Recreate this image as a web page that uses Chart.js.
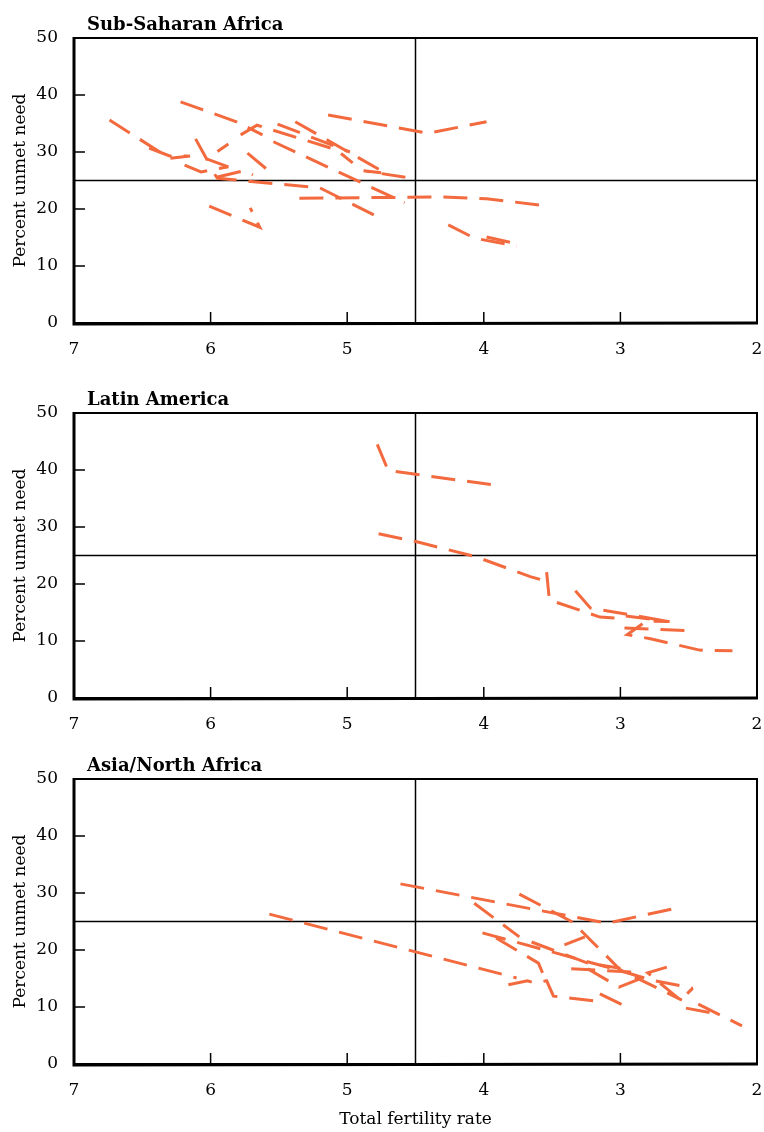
<!DOCTYPE html>
<html>
<head>
<meta charset="utf-8">
<script src="https://cdn.jsdelivr.net/npm/chart.js@4.4.0/dist/chart.umd.min.js"></script>
<style>
  body { margin: 0; background: #fff; width: 764px; height: 1132px; position: relative; overflow: hidden; }
  canvas { position: absolute; left: 0; }
</style>
</head>
<body>
<canvas id="ssa" width="764" height="375" style="top:0"></canvas>
<canvas id="latam" width="764" height="366" style="top:375px"></canvas>
<canvas id="asia" width="764" height="391" style="top:741px"></canvas>
<script>
// each country is one trajectory of [total fertility rate, percent unmet need] survey points
const ssaLines = [
  [[6.74, 35.6], [6.30, 28.9], [6.15, 29.3]],
  [[6.22, 38.8], [5.81, 35.3], [5.62, 33.0]],
  [[5.78, 33.0], [5.66, 34.7], [5.08, 30.4], [4.96, 28.1]],
  [[5.14, 36.5], [4.41, 33.3], [3.98, 35.3]],
  [[5.38, 35.3], [4.72, 26.3], [4.88, 26.7], [4.53, 25.4]],
  [[5.54, 31.8], [4.58, 21.1]],
  [[5.51, 34.9], [4.98, 30.0]],
  [[6.45, 30.7], [6.30, 29.3], [6.17, 29.3]],
  [[6.11, 32.3], [6.03, 28.8], [5.87, 31.4]],
  [[6.19, 27.7], [6.07, 26.5], [5.87, 27.4]],
  [[6.03, 28.8], [5.87, 27.4]],
  [[5.35, 21.9], [4.30, 22.1], [3.98, 21.8], [3.52, 20.5]],
  [[5.97, 26.1], [5.95, 25.4], [5.20, 23.7], [4.79, 18.8]],
  [[5.95, 25.6], [5.76, 26.7], [5.69, 26.0]],
  [[6.01, 20.5], [5.64, 16.8], [5.71, 20.2]],
  [[4.26, 17.2], [4.07, 14.9], [3.76, 13.5]],
  [[3.98, 15.1], [3.76, 13.9]],
  [[5.73, 29.8], [5.59, 27.0], [5.66, 26.8]]
];

const latamLines = [
  [[4.78, 44.5], [4.70, 39.9], [3.93, 37.4]],
  [[4.77, 28.8], [4.49, 27.4], [4.06, 24.8], [3.66, 21.3], [3.53, 20.4]],
  [[3.54, 22.1], [3.52, 17.2], [3.15, 14.2], [2.97, 13.9]],
  [[3.33, 18.8], [3.22, 15.8], [2.64, 13.4]],
  [[2.96, 14.4], [2.64, 13.4], [2.81, 13.5], [2.95, 11.1], [2.78, 10.4], [2.42, 8.4], [2.18, 8.3]],
  [[2.97, 12.3], [2.48, 11.8]]
];

const asiaLines = [
  [[5.57, 26.3], [3.76, 15.1]],
  [[4.61, 31.6], [3.10, 24.7], [2.56, 27.5]],
  [[4.07, 28.2], [3.74, 22.3]],
  [[3.91, 22.1], [3.60, 17.7], [3.57, 16.0]],
  [[4.01, 23.0], [3.02, 16.5], [2.77, 14.7], [2.47, 13.3]],
  [[3.74, 29.8], [3.35, 24.9], [3.00, 16.5], [2.55, 11.2]],
  [[3.41, 20.9], [3.26, 22.3]],
  [[3.36, 16.7], [2.89, 16.1]],
  [[3.24, 16.7], [3.01, 13.5], [2.84, 15.1]],
  [[2.66, 17.0], [2.80, 16.0], [2.56, 11.2], [2.47, 13.3]],
  [[3.82, 13.9], [3.68, 14.6], [3.63, 14.2], [3.54, 14.6], [3.49, 11.9], [3.17, 11.0]],
  [[3.15, 12.3], [2.97, 10.2]],
  [[2.43, 10.5], [2.11, 6.7]],
  [[2.52, 9.8], [2.32, 8.9]],
  [[3.65, 21.4], [3.24, 17.7], [3.00, 16.8]]
];

const xTicks = [7, 6, 5, 4, 3, 2];
const yTicks = [0, 10, 20, 30, 40, 50];
const refTFR = 4.5;
const refUnmet = 25;

const font = { family: '"DejaVu Serif", serif', size: 17 };
const orange = '#f26a3d';

const framePlugin = {
  id: 'frame',
  afterDatasetsDraw(chart, args, opts) {
    const { ctx, chartArea: a, scales: { x, y } } = chart;
    ctx.save();
    ctx.strokeStyle = '#000';
    ctx.lineWidth = 2;
    ctx.strokeRect(a.left, a.top, a.right - a.left, a.bottom - a.top);
    ctx.lineWidth = 3;
    ctx.beginPath();
    ctx.moveTo(a.left, a.top - 1);
    ctx.lineTo(a.left, a.bottom + 1);
    ctx.lineTo(a.right + 1, a.bottom);
    ctx.stroke();
    // ticks point into the plot
    ctx.lineWidth = 1.5;
    ctx.beginPath();
    yTicks.forEach(v => {
      const py = y.getPixelForValue(v);
      ctx.moveTo(a.left, py);
      ctx.lineTo(a.left + 11, py);
    });
    xTicks.forEach(v => {
      const px = x.getPixelForValue(v);
      ctx.moveTo(px, a.bottom);
      ctx.lineTo(px, a.bottom - 11);
    });
    ctx.stroke();
    ctx.font = 'bold 18px "DejaVu Serif", serif';
    ctx.fillStyle = '#000';
    ctx.textBaseline = 'alphabetic';
    ctx.fillText(opts.text, a.left + 13, a.top - 8);
    ctx.restore();
  }
};

function buildChart(id, title, lines, xHeight, bottomPad, showXTitle) {
  const datasets = lines.map(line => ({
    data: line.map(([x, y]) => ({ x, y })),
    borderColor: orange,
    borderWidth: 3,
    borderDash: [24, 12],
    borderCapStyle: 'butt',
    pointRadius: 0,
    showLine: true,
    fill: false,
    order: 0
  }));
  datasets.push({
    data: [{ x: refTFR, y: 0 }, { x: refTFR, y: 50 }],
    borderColor: '#000', borderWidth: 1.5, pointRadius: 0, showLine: true, order: 10
  });
  datasets.push({
    data: [{ x: 7, y: refUnmet }, { x: 2, y: refUnmet }],
    borderColor: '#000', borderWidth: 1.5, pointRadius: 0, showLine: true, order: 10
  });

  return new Chart(document.getElementById(id), {
    type: 'scatter',
    data: { datasets },
    options: {
      responsive: false,
      animation: false,
      layout: { padding: { top: 38, right: 7, bottom: bottomPad, left: 0 } },
      plugins: {
        legend: { display: false },
        tooltip: { enabled: false },
        frame: { text: title }
      },
      scales: {
        x: {
          type: 'linear', min: 2, max: 7, reverse: true,
          border: { display: false },
          grid: { display: false, drawTicks: false },
          ticks: { stepSize: 1, font, color: '#000', padding: 16 },
          title: { display: showXTitle, text: 'Total fertility rate', font, color: '#000', padding: { top: 0, bottom: 2 } },
          afterFit(s) {
            s.height = xHeight;
            s.paddingLeft = 0;
            s.paddingRight = 0;
          }
        },
        y: {
          min: 0, max: 50,
          border: { display: false },
          grid: { display: false, drawTicks: false },
          ticks: { stepSize: 10, font, color: '#000', padding: 16 },
          title: { display: true, text: 'Percent unmet need', font, color: '#000', padding: { top: 10, bottom: 0 } },
          afterFit(s) { s.width = 74; }
        }
      }
    },
    plugins: [framePlugin]
  });
}

buildChart('ssa', 'Sub-Saharan Africa', ssaLines, 40, 12, false);
buildChart('latam', 'Latin America', latamLines, 40, 3, false);
buildChart('asia', 'Asia/North Africa', asiaLines, 68, 0, true);
</script>
</body>
</html>
